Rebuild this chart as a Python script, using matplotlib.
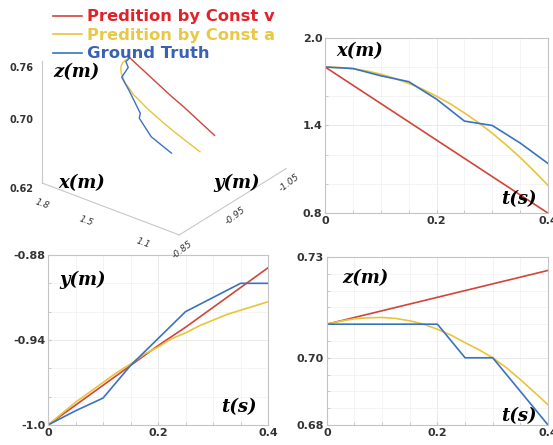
import matplotlib
matplotlib.use("Agg")
import matplotlib.pyplot as plt
import numpy as np
from matplotlib.lines import Line2D
from matplotlib.ticker import MultipleLocator

# ---- data ----
t_gt = [0.0, 0.05, 0.10, 0.15, 0.20, 0.25, 0.30, 0.35, 0.40]
t_fine = [0.0, 0.025, 0.05, 0.075, 0.10, 0.125, 0.15, 0.175, 0.20, 0.225,
          0.25, 0.275, 0.30, 0.325, 0.35, 0.375, 0.40]

x_gt = [1.80, 1.79, 1.74, 1.70, 1.58, 1.43, 1.40, 1.28, 1.14]
x_v = [1.80, 1.675, 1.55, 1.425, 1.30, 1.175, 1.05, 0.925, 0.80]
x_a = [1.80, 1.797, 1.788, 1.773, 1.751, 1.722, 1.688, 1.648, 1.60, 1.547,
       1.486, 1.420, 1.347, 1.267, 1.181, 1.088, 0.99]

y_gt = [-1.0, -0.990, -0.981, -0.958, -0.939, -0.920, -0.910, -0.900, -0.900]
y_v = [-1.0, -0.986, -0.972, -0.958, -0.944, -0.931, -0.917, -0.903, -0.889]
y_a = [-1.0, -0.992, -0.984, -0.977, -0.970, -0.963, -0.957, -0.950, -0.945,
       -0.939, -0.935, -0.930, -0.926, -0.922, -0.919, -0.916, -0.913]

z_gt = [0.710, 0.710, 0.710, 0.710, 0.710, 0.700, 0.700, 0.690, 0.680]
z_v = [0.710, 0.712, 0.714, 0.716, 0.718, 0.720, 0.722, 0.724, 0.726]
z_a = [0.710, 0.7109, 0.7116, 0.7119, 0.7120, 0.7117, 0.7110, 0.7100, 0.7085,
       0.7067, 0.7045, 0.7024, 0.7000, 0.6970, 0.6935, 0.6898, 0.6860]

legend_labels = ["Predition by Const v", "Predition by Const a", "Ground Truth"]

C_RED = "#d0453a"
C_YEL = "#e8c43c"
C_BLU = "#3a72c2"
T_RED = "#e0222a"
T_YEL = "#e8c844"
T_BLU = "#3a62b4"

TICK_FONT = dict(family="DejaVu Sans", weight="bold", size=8, color="#333333")
LAB_FONT = dict(family="DejaVu Serif", weight="bold", style="italic", size=13)

fig = plt.figure(figsize=(5.53, 4.45), dpi=100)


def style2d(ax, ylim, yticks, yfmt):
    ax.set_xlim(0, 0.4)
    ax.set_ylim(*ylim)
    ax.set_xticks([0, 0.2, 0.4])
    ax.set_xticklabels(["0", "0.2", "0.4"], **TICK_FONT)
    ax.set_yticks(yticks)
    ax.set_yticklabels(yfmt, **TICK_FONT)
    ax.xaxis.set_minor_locator(MultipleLocator(0.05))
    ax.grid(True, which="major", color="#e6e6e6", lw=0.6)
    ax.grid(True, which="minor", color="#f0f0f0", lw=0.5)
    for s in ax.spines.values():
        s.set_color("#c4c4c4")
        s.set_linewidth(0.8)
    ax.tick_params(which="both", length=2, color="#c4c4c4", direction="in", pad=2)


# top-right: x(t)
ax1 = fig.add_axes([0.588, 0.521, 0.403, 0.394])
ax1.plot(t_gt, x_v, color=C_RED, lw=1.2)
ax1.plot(t_fine, x_a, color=C_YEL, lw=1.2)
ax1.plot(t_gt, x_gt, color=C_BLU, lw=1.2)
style2d(ax1, (0.8, 2.0), [0.8, 1.4, 2.0], ["0.8", "1.4", "2.0"])
ax1.yaxis.set_minor_locator(MultipleLocator(0.2))
ax1.text(0.05, 0.975, "x(m)", transform=ax1.transAxes, va="top", ha="left", **LAB_FONT)
ax1.text(0.95, 0.03, "t(s)", transform=ax1.transAxes, va="bottom", ha="right", **LAB_FONT)

# bottom-left: y(t)
ax2 = fig.add_axes([0.0868, 0.045, 0.398, 0.382])
ax2.plot(t_gt, y_v, color=C_RED, lw=1.2)
ax2.plot(t_fine, y_a, color=C_YEL, lw=1.2)
ax2.plot(t_gt, y_gt, color=C_BLU, lw=1.2)
style2d(ax2, (-1.0, -0.88), [-1.0, -0.94, -0.88], ["-1.0", "-0.94", "-0.88"])
ax2.yaxis.set_minor_locator(MultipleLocator(0.02))
ax2.text(0.05, 0.91, "y(m)", transform=ax2.transAxes, va="top", ha="left", **LAB_FONT)
ax2.text(0.95, 0.05, "t(s)", transform=ax2.transAxes, va="bottom", ha="right", **LAB_FONT)

# bottom-right: z(t)
ax3 = fig.add_axes([0.591, 0.045, 0.400, 0.3775])
ax3.plot(t_gt, z_v, color=C_RED, lw=1.2)
ax3.plot(t_fine, z_a, color=C_YEL, lw=1.2)
ax3.plot(t_gt, z_gt, color=C_BLU, lw=1.2)
style2d(ax3, (0.68, 0.73), [0.68, 0.70, 0.73], ["0.68", "0.70", "0.73"])
ax3.yaxis.set_minor_locator(MultipleLocator(0.005))
ax3.text(0.07, 0.93, "z(m)", transform=ax3.transAxes, va="top", ha="left", **LAB_FONT)
ax3.text(0.95, 0.0, "t(s)", transform=ax3.transAxes, va="bottom", ha="right", **LAB_FONT)

# top-left: 3D trajectory
ax4 = fig.add_axes([-0.019, 0.454, 0.62, 0.56], projection="3d", proj_type="ortho")
ax4.set_zorder(3)
ax4.patch.set_alpha(0)
ax4.plot(x_v, y_v, z_v, color=C_RED, lw=1.0)
ax4.plot(x_a, y_a, z_a, color=C_YEL, lw=1.0)
ax4.plot(x_gt, y_gt, z_gt, color=C_BLU, lw=1.0)
ax4.set_xlim(0.9, 1.85)
ax4.set_ylim(-1.05, -0.85)
ax4.set_zlim(0.62, 0.76)
ax4.set_xticks([1.8, 1.5, 1.1])
ax4.set_yticks([-0.85, -0.95, -1.05])
ax4.set_zticks([0.62, 0.70, 0.76])
ax4.set_xticklabels(["1.8", "1.5", "1.1"], family="DejaVu Sans", style="italic",
                    size=6.5, rotation=-20, color="#333333")
ax4.set_yticklabels(["-0.85", "-0.95", "-1.05"], family="DejaVu Sans", style="italic",
                    size=6.5, rotation=38, color="#333333")
ax4.set_zticklabels(["0.62", "0.70", "0.76"], family="DejaVu Sans", weight="bold",
                    size=7, color="#333333")
ax4.view_init(elev=29, azim=128)
ax4.set_box_aspect((1, 1, 0.8), zoom=1.10)
for a in (ax4.xaxis, ax4.yaxis, ax4.zaxis):
    a.set_pane_color((1, 1, 1, 0))
    a.line.set_color("#c8c8c8")
    a._axinfo["grid"]["color"] = (1, 1, 1, 0)
    a._axinfo["grid"]["linewidth"] = 0
    a._axinfo["tick"]["inward_factor"] = 0.0
    a._axinfo["tick"]["outward_factor"] = 0.0
ax4.grid(False)
ax4.zaxis.set_ticks_position("upper")
ax4.xaxis.set_tick_params(pad=-2)
ax4.yaxis.set_tick_params(pad=-6)
ax4.zaxis.set_tick_params(pad=0)
fig.text(0.096, 0.838, "z(m)", va="center", **LAB_FONT)
fig.text(0.105, 0.589, "x(m)", va="center", **LAB_FONT)
fig.text(0.385, 0.589, "y(m)", va="center", **LAB_FONT)

# legend
handles = [Line2D([], [], color=c, lw=1.2) for c in (C_RED, C_YEL, C_BLU)]
leg = fig.legend(handles, legend_labels, loc="upper left", bbox_to_anchor=(0.075, 1.005),
                 frameon=False, handlelength=1.75, handletextpad=0.35, labelspacing=0.22,
                 borderaxespad=0.3,
                 prop=dict(family="DejaVu Sans", weight="bold", size=11.8))
for txt, c in zip(leg.get_texts(), (T_RED, T_YEL, T_BLU)):
    txt.set_color(c)

fig.savefig("out.png", dpi=100)
